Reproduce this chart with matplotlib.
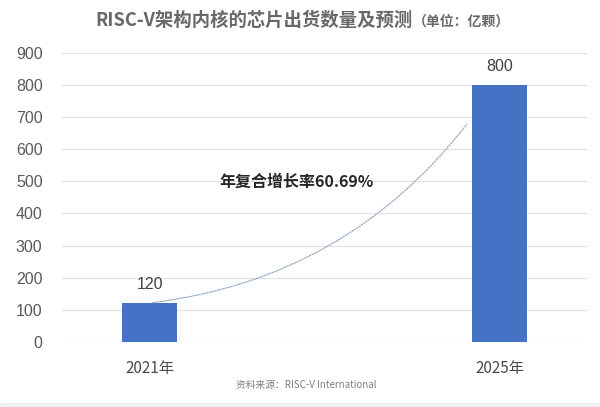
import matplotlib.pyplot as plt
from matplotlib.patches import FancyArrowPatch, Rectangle

plt.rcParams['font.family'] = ['Noto Sans CJK SC', 'DejaVu Sans']

# data
years = ["2021年", "2025年"]
shipments = [120, 800]          # 亿颗
cagr_label = "年复合增长率60.69%"
title_main = "RISC-V架构内核的芯片出货数量及预测"
title_unit = "（单位：亿颗）"
source = "资料来源：RISC-V International"

BAR_COLOR = "#4472C4"
GRID_COLOR = "#e3e3e3"
TEXT_COLOR = "#595959"

fig = plt.figure(figsize=(6.0, 4.07), dpi=100)
ax = fig.add_axes([62/600, 1 - 342/407, 525/600, (342 - 52.7)/407])

x = list(range(len(years)))
bar_w = 0.157
ax.bar(x, shipments, width=bar_w, color=BAR_COLOR, zorder=3)

for xi, v in zip(x, shipments):
    ax.text(xi, v + 35, str(v), ha='center', va='bottom', fontsize=11.5,
            color="#404040", family=['Liberation Sans'])

ax.set_xlim(-0.25, 1.25)
ax.set_ylim(0, 900)
ax.set_yticks(range(0, 901, 100))
ax.set_xticks(x)
ax.set_xticklabels(years)
ax.yaxis.grid(True, color=GRID_COLOR, lw=0.9, zorder=0)
for s in ax.spines.values():
    s.set_visible(False)
ax.tick_params(axis='both', length=0, labelcolor=TEXT_COLOR)
ax.tick_params(axis='y', pad=14, labelsize=11.5)
ax.tick_params(axis='x', pad=13, labelsize=11)
for lab in ax.get_yticklabels():
    lab.set_family(['Liberation Sans'])
for lab in ax.get_xticklabels():
    lab.set_fontweight('medium')
    lab.set_color("#4a4a4a")

# growth curve between the two bars
start = (x[0], shipments[0] * 1.01)
end = (x[1] - bar_w / 2 - 0.01, shipments[1] * 0.855)
curve = FancyArrowPatch(start, end, arrowstyle='-', connectionstyle="arc3,rad=0.21",
                        color="#8fa3c2", lw=0.9, linestyle=(0, (1, 1.2)), zorder=4)
ax.add_patch(curve)
ax.text(0.42, 500, cagr_label, ha='center', va='center', fontsize=11.5,
        fontweight='bold', color="#262626")

# title in two sizes
fig.text(413/600, 1 - 26/407, title_main, ha='right', va='baseline',
         fontsize=13.2, fontweight='bold', color="#686868")
fig.text(413/600, 1 - 26/407, title_unit, ha='left', va='baseline',
         fontsize=10, fontweight='bold', color="#686868")

fig.text(306/600, 1 - 385/407, source, ha='center', va='center',
         fontsize=7, color="#7f7f7f")

fig.patches.append(Rectangle((0, 0), 1, 4/407, transform=fig.transFigure,
                             color="#efefef", zorder=0))

fig.savefig("out.png", dpi=100)
